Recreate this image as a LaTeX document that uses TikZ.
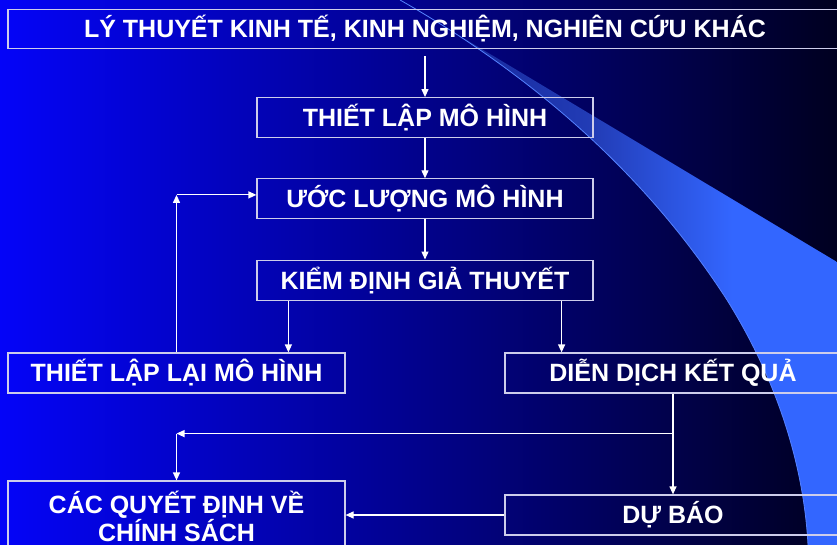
\documentclass[tikz,border=0pt]{standalone}
\usepackage{fontspec}
\setmainfont{Liberation Sans}
\usepackage{xcolor}
\usepackage{tikz}
\usetikzlibrary{arrows.meta,calc,positioning}
\definecolor{bgleft}{RGB}{4,4,248}
\definecolor{bgmid}{RGB}{0,0,170}
\definecolor{bgright}{RGB}{0,0,32}
\definecolor{swdark}{RGB}{18,32,145}
\definecolor{swmid}{RGB}{34,60,182}
\definecolor{swlight}{RGB}{51,102,255}
\definecolor{swedge}{RGB}{85,130,255}
\definecolor{boxline}{RGB}{205,205,235}
\pgfdeclarehorizontalshading{swoosh}{100bp}{color(0bp)=(swdark); color(25bp)=(swdark); color(47bp)=(swmid); color(63bp)=(swlight); color(100bp)=(swlight)}
\tikzset{>={Triangle[length=8pt,width=7pt]}}
\tikzset{flow node/.style={draw=boxline,line width=1.2pt,text=white,font=\fontsize{25}{27}\selectfont\bfseries,minimum height=40pt,inner sep=0pt,align=center},
         flow line/.style={color=white,line width=1.2pt,->}
            }

\begin{document}
\begin{tikzpicture}[x=1pt,y=-1pt]

    \useasboundingbox (0,0) rectangle (837,545);
    \clip (0,0) rectangle (837,545);
    \shade[left color=bgleft,middle color=bgmid,right color=bgright] (0,0) rectangle (837,545);

    % swoosh on the right
    \shade[shading=swoosh] (400,0) -- (837,262) -- (837,545) -- (808,545)
        .. controls (804,470) and (780,385) .. (727,300)
        .. controls (640,165) and (520,68) .. (400,0);
    \draw[swedge,line width=0.8pt] (400,0) .. controls (520,68) and (640,165) .. (727,300)
        .. controls (780,385) and (804,470) .. (808,545);

    \node[flow node,minimum width=834pt,minimum height=39pt] (top) at (425,29) {LÝ THUYẾT KINH TẾ, KINH NGHIỆM, NGHIÊN CỨU KHÁC};
    \node[flow node,minimum width=336pt] (model) [below = 48pt of top] {THIẾT LẬP MÔ HÌNH};
    \node[flow node,minimum width=336pt] (estim) [below = 40pt of model] {ƯỚC LƯỢNG MÔ HÌNH};
    \node[flow node,minimum width=336pt] (test) [below = 40pt of estim] {KIỂM ĐỊNH GIẢ THUYẾT};
    \node[flow node,minimum width=337pt] (respec) at (176.5,373) {THIẾT LẬP LẠI MÔ HÌNH};
    \node[flow node,minimum width=336pt] (interp) at (673,373) {DIỄN DỊCH KẾT QUẢ};
    \node[flow node,minimum width=336pt] (forecast) at (673,515) {DỰ BÁO};
    \node[flow node,minimum width=337pt,minimum height=70pt] (policy) at (176.5,516) {CÁC QUYẾT ĐỊNH VỀ\\CHÍNH SÁCH};

    \coordinate (ta) at ([xshift=32pt]test.south west);
    \coordinate (tb) at ([xshift=-32pt]test.south east);
    \coordinate (fb) at ($(respec.north |- estim.west)+(0,-4)$);
    \coordinate (split) at ($(interp.south)+(0,40)$);
    \coordinate (corner) at (split -| policy.north);

    \path[every edge/.style={draw,flow line}]
    (top) edge [shorten <=7pt] (model)
    (model) edge (estim)
    (estim) edge (test)
    (ta) edge (ta |- respec.north)
    (tb) edge (tb |- interp.north)
    (respec.north) edge (fb)
    (fb) edge (fb -| estim.west)
    (interp) edge (forecast)
    (split) edge (corner)
    (corner) edge (policy.north)
    (forecast.west) edge (forecast.west -| policy.east);

\end{tikzpicture}
\end{document}
